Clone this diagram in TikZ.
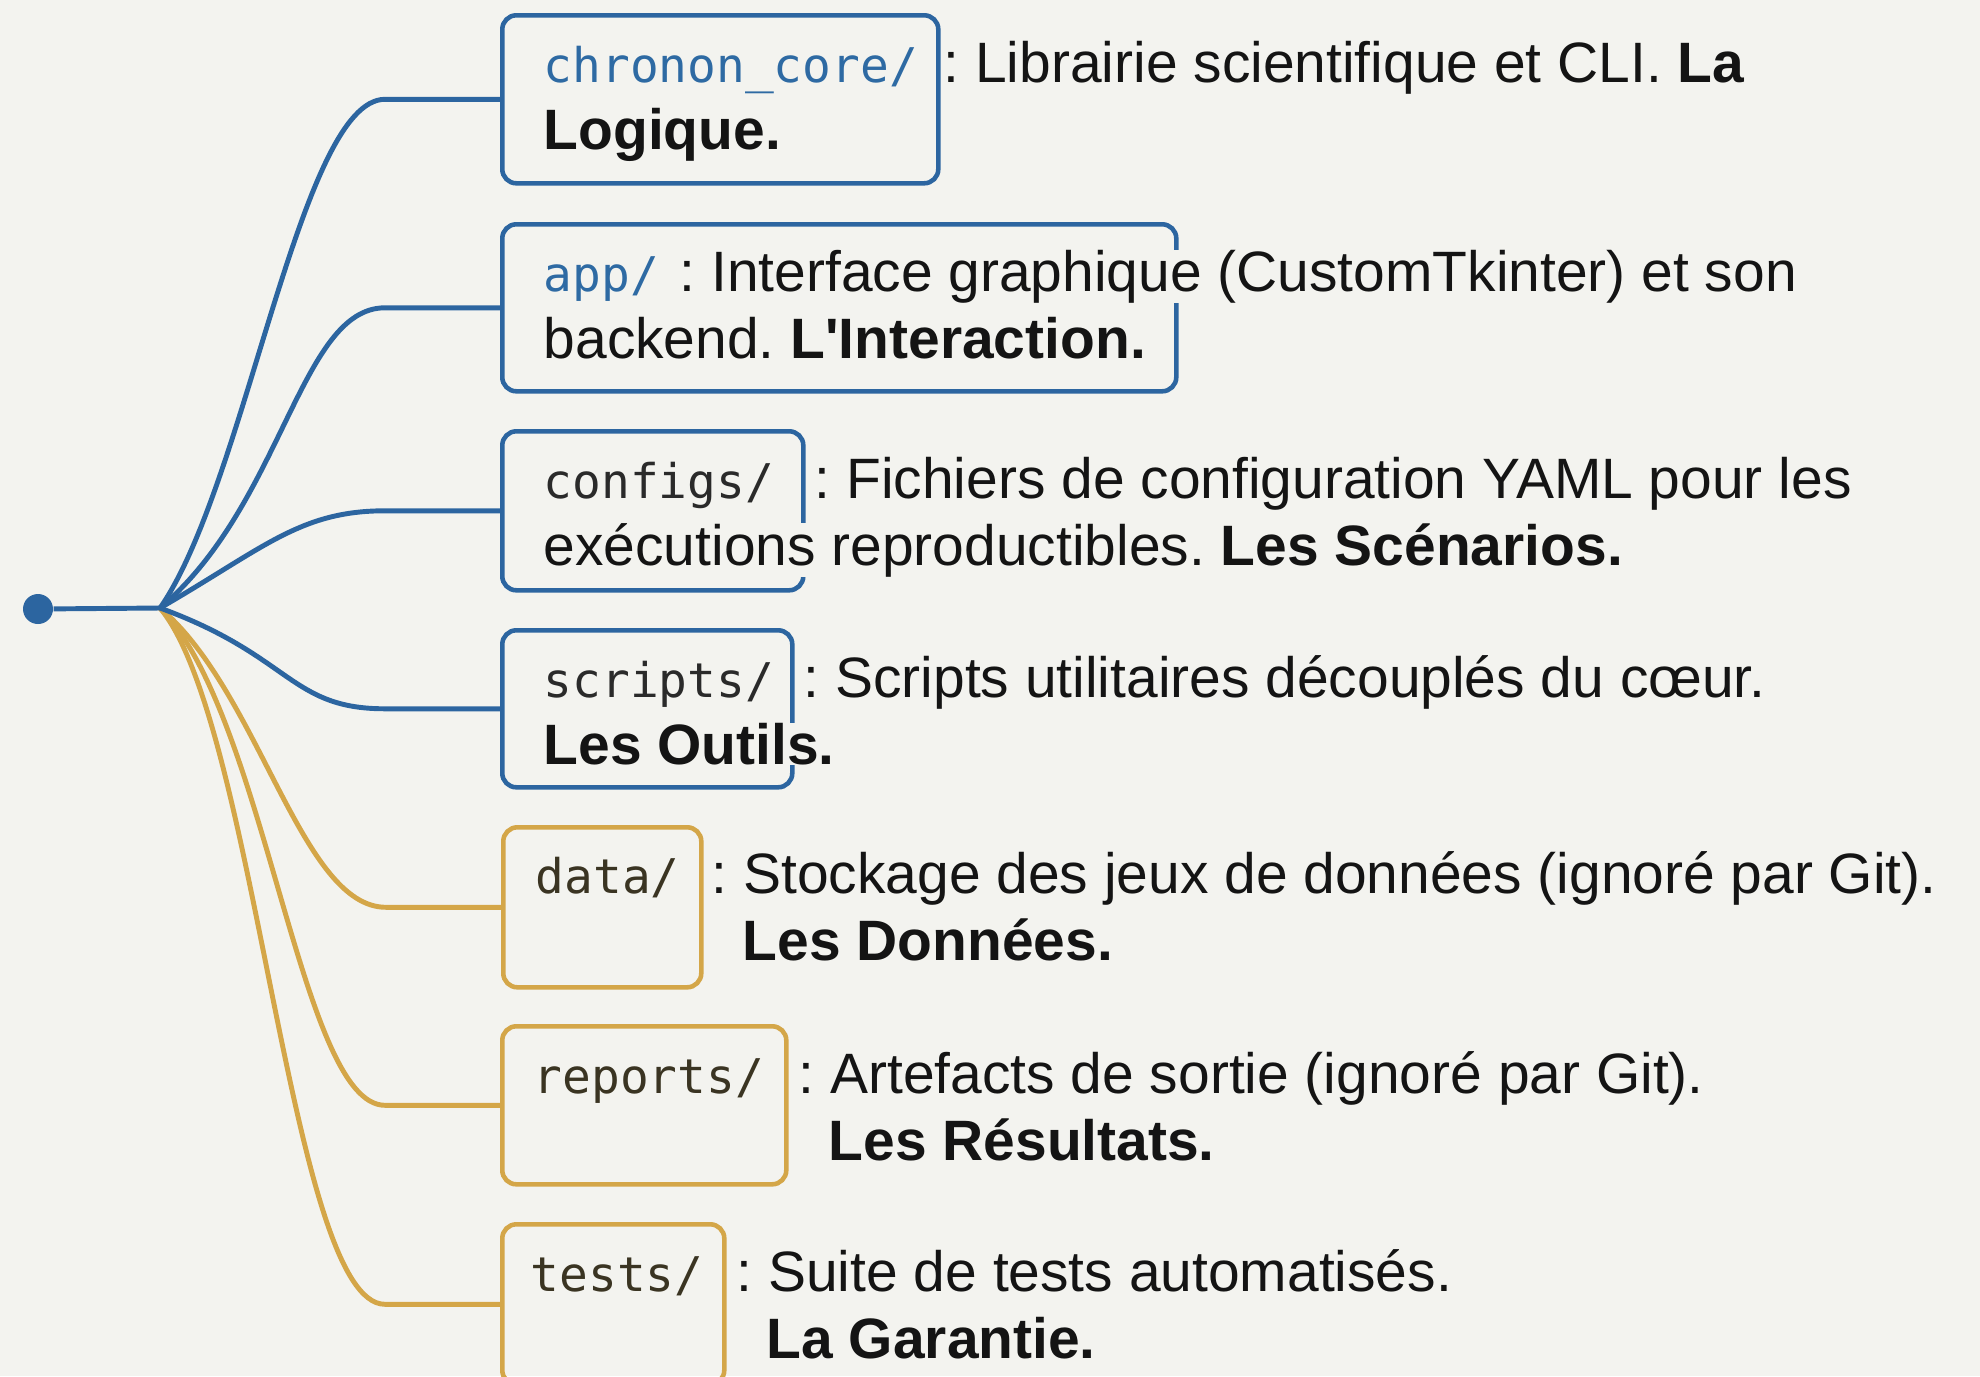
\documentclass[tikz,border=0pt]{standalone}
\usepackage{fontspec}
\setmainfont{Liberation Sans}
\setmonofont{DejaVu Sans Mono}
\definecolor{paper}{HTML}{F3F3EF}
\definecolor{treeblue}{HTML}{2C65A0}
\definecolor{treegold}{HTML}{D4A648}
\definecolor{monoblue}{HTML}{2E6AA3}
\definecolor{monodark}{HTML}{2A2A2A}
\definecolor{monobrown}{HTML}{3A3422}
\frenchspacing
\begin{document}
\begin{tikzpicture}[every node/.style={font=\fontsize{16.2}{20}\selectfont},
  folder/.style={draw,line width=1.3pt,rounded corners=4pt,anchor=north west,inner sep=0pt},
  dirname/.style={anchor=base west,inner sep=0pt,font=\ttfamily\fontsize{13.6}{16}\selectfont},
  dirtxt/.style={anchor=base west,inner sep=0pt,fill=paper,text=black!92},
  link/.style={line width=1.4pt}]
\fill[paper] (0,0) rectangle (19.80,-13.76);
\useasboundingbox (0,0) rectangle (19.80,-13.76);
% folders
\node[folder,treeblue,minimum width=4.36cm,minimum height=1.68cm] (core) at (5.00,-0.13) {};
\node[folder,treeblue,minimum width=6.74cm,minimum height=1.67cm] (app) at (5.00,-2.22) {};
\node[folder,treeblue,minimum width=3.01cm,minimum height=1.59cm] (configs) at (5.00,-4.29) {};
\node[folder,treeblue,minimum width=2.90cm,minimum height=1.57cm] (scripts) at (5.00,-6.28) {};
\node[folder,treegold,minimum width=1.98cm,minimum height=1.60cm] (data) at (5.01,-8.25) {};
\node[folder,treegold,minimum width=2.84cm,minimum height=1.58cm] (reports) at (5.00,-10.24) {};
\node[folder,treegold,minimum width=2.22cm,minimum height=1.60cm] (tests) at (5.00,-12.22) {};
% tree
\coordinate (hub) at (1.60,-6.08);
\draw[link,treegold] (hub) .. controls +(-40:1.3) and +(-0.85,0) .. ([xshift=-1.15cm]data.west) -- (data.west);
\draw[link,treegold] (hub) .. controls +(-45:1.5) and +(-0.85,0) .. ([xshift=-1.15cm]reports.west) -- (reports.west);
\draw[link,treegold] (hub) .. controls +(-50:1.5) and +(-0.95,0) .. ([xshift=-1.15cm]tests.west) -- (tests.west);
\draw[link,treeblue] (hub) .. controls +(55:1.5) and +(-0.85,0) .. ([xshift=-1.15cm]core.west) -- (core.west);
\draw[link,treeblue] (hub) .. controls +(40:1.6) and +(-0.85,0) .. ([xshift=-1.15cm]app.west) -- (app.west);
\draw[link,treeblue] (hub) .. controls +(30:1.2) and +(-0.85,0) .. ([xshift=-1.15cm]configs.west) -- (configs.west);
\draw[link,treeblue] (hub) .. controls +(-20:1.4) and +(-0.95,0) .. ([xshift=-1.15cm]scripts.west) -- (scripts.west);
\node[circle,fill=treeblue,inner sep=0pt,minimum size=0.30cm] (root) at (0.38,-6.09) {};
\draw[link,treeblue] (root) -- (hub);
% labels
\node[dirname,monoblue] (core-name) at (5.43,-0.82) {chronon\_core/};
\node[dirtxt] (core-desc) at (9.43,-0.82) {: Librairie scientifique et CLI. \textbf{La}};
\node[dirtxt] (core-more) at (5.43,-1.49) {\textbf{Logique.}};
\node[dirname,monoblue] (app-name) at (5.43,-2.91) {app/};
\node[dirtxt] (app-desc) at (6.79,-2.91) {: Interface graphique (CustomTkinter) et son};
\node[dirtxt] (app-more) at (5.43,-3.58) {backend. \textbf{L\textquotesingle Interaction.}};
\node[dirname,monodark] (configs-name) at (5.43,-4.98) {configs/};
\node[dirtxt] (configs-desc) at (8.14,-4.98) {: Fichiers de configuration YAML pour les};
\node[dirtxt] (configs-more) at (5.43,-5.65) {exécutions reproductibles. \textbf{Les Scénarios.}};
\node[dirname,monodark] (scripts-name) at (5.43,-6.97) {scripts/};
\node[dirtxt] (scripts-desc) at (8.03,-6.97) {: Scripts utilitaires découplés du cœur.};
\node[dirtxt] (scripts-more) at (5.43,-7.64) {\textbf{Les Outils.}};
\node[dirname,monobrown] (data-name) at (5.35,-8.93) {data/};
\node[dirtxt] (data-desc) at (7.11,-8.93) {: Stockage des jeux de données (ignoré par Git).};
\node[dirtxt] (data-more) at (7.42,-9.60) {\textbf{Les Données.}};
\node[dirname,monobrown] (reports-name) at (5.33,-10.93) {reports/};
\node[dirtxt] (reports-desc) at (7.98,-10.93) {: Artefacts de sortie (ignoré par Git).};
\node[dirtxt] (reports-more) at (8.28,-11.60) {\textbf{Les Résultats.}};
\node[dirname,monobrown] (tests-name) at (5.30,-12.91) {tests/};
\node[dirtxt] (tests-desc) at (7.36,-12.91) {: Suite de tests automatisés.};
\node[dirtxt] (tests-more) at (7.66,-13.58) {\textbf{La Garantie.}};
\end{tikzpicture}
\end{document}
